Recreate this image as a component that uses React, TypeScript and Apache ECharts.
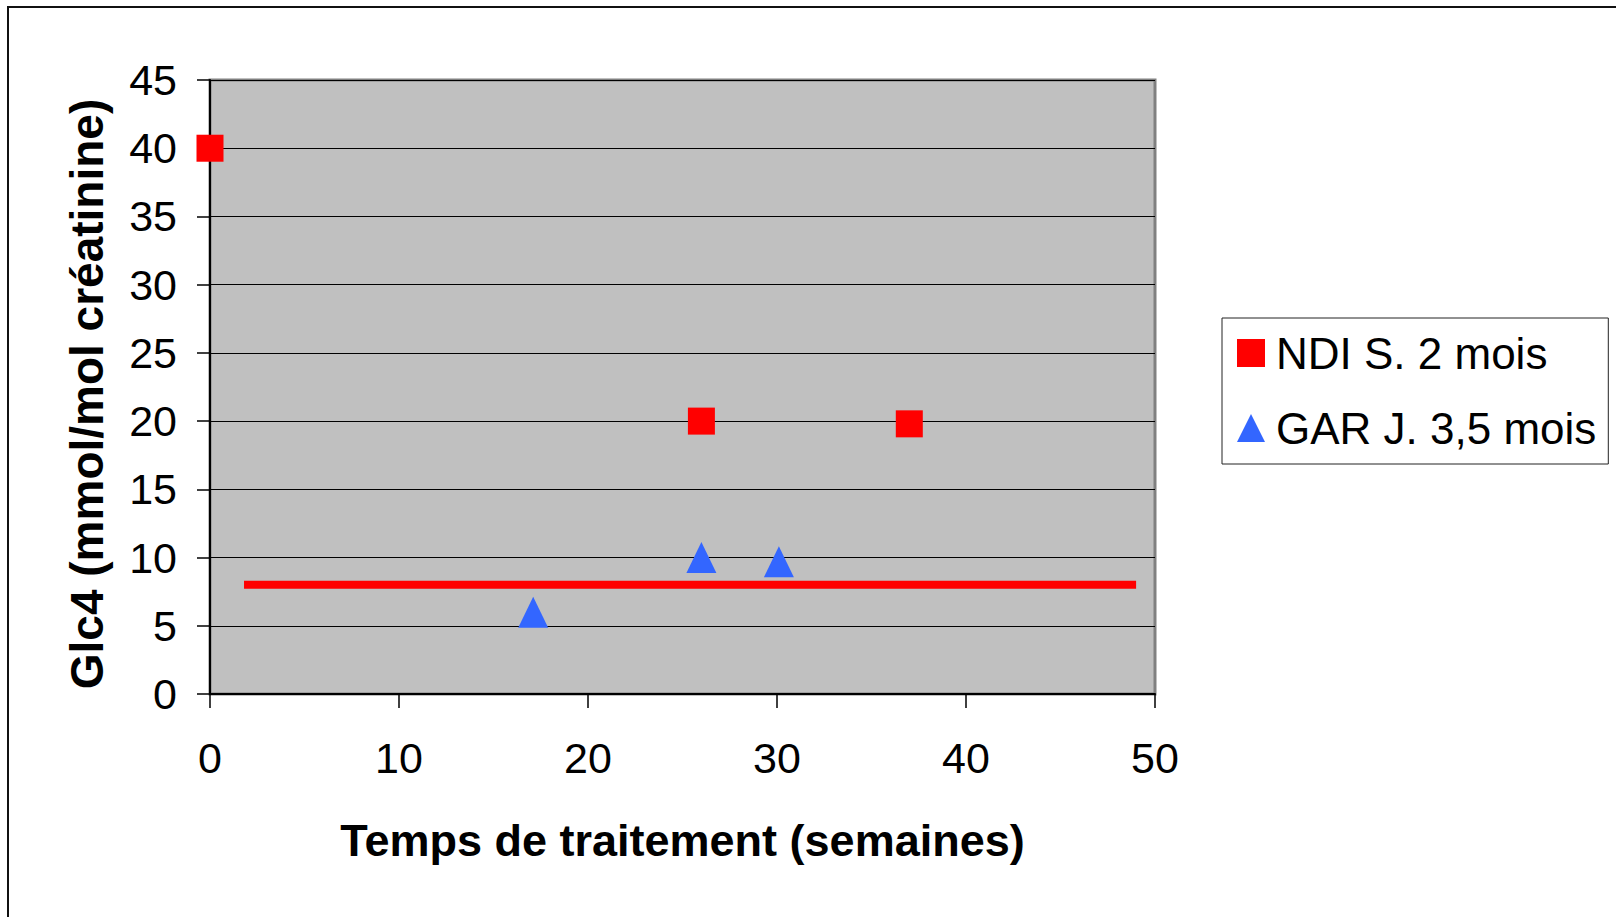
import React, { useEffect, useRef } from "react";
import * as echarts from "echarts";

const ndiName = "NDI S. 2 mois";
const garName = "GAR J. 3,5 mois";
const ndiData: [number, number][] = [
  [0, 40],
  [26, 20],
  [37, 19.8],
];
const garData: [number, number][] = [
  [17.1, 6],
  [26, 10],
  [30.1, 9.7],
];
const refLine: [number, number][] = [
  [1.8, 8],
  [49, 8],
];
const xTitle = "Temps de traitement (semaines)";
const yTitle = "Glc4 (mmol/mol créatinine)";

const FONT = "'Liberation Sans', Arial, sans-serif";

export default function App() {
  const ref = useRef<HTMLDivElement>(null);
  useEffect(() => {
    document.body.style.margin = "0";
    const chart = echarts.init(ref.current!, undefined, { renderer: "svg" });
    chart.setOption({
      animation: false,
      backgroundColor: "#fff",
      textStyle: { fontFamily: FONT },
      graphic: [
        {
          type: "rect",
          shape: { x: 8, y: 7, width: 1700, height: 1000 },
          style: { fill: "none", stroke: "#111", lineWidth: 2 },
          z: 100,
        },
      ],
      grid: {
        left: 210,
        top: 80,
        right: 461,
        bottom: 223,
        show: true,
        backgroundColor: "#c0c0c0",
        borderColor: "#808080",
        borderWidth: 3,
      },
      legend: {
        orient: "vertical",
        left: 1222,
        top: 318,
        padding: [13, 12, 14, 15],
        itemGap: 31,
        itemWidth: 28,
        itemHeight: 28,
        backgroundColor: "#fff",
        borderColor: "#222",
        borderWidth: 1,
        data: [ndiName, garName],
        textStyle: {
          fontFamily: FONT,
          fontSize: 44,
          lineHeight: 44,
          color: "#000",
          padding: [0, 0, 0, 6],
        },
      },
      xAxis: {
        type: "value",
        min: 0,
        max: 50,
        interval: 10,
        name: xTitle,
        nameLocation: "middle",
        nameGap: 124,
        nameTextStyle: {
          fontFamily: FONT,
          fontSize: 45,
          fontWeight: "bold",
          color: "#000",
        },
        axisLine: { show: true, lineStyle: { color: "#000", width: 2 } },
        axisTick: {
          show: true,
          inside: false,
          length: 14,
          lineStyle: { color: "#000", width: 1.5 },
        },
        axisLabel: {
          fontFamily: FONT,
          fontSize: 43,
          color: "#000",
          margin: 42,
        },
        splitLine: { show: false },
      },
      yAxis: {
        type: "value",
        min: 0,
        max: 45,
        interval: 5,
        name: yTitle,
        nameLocation: "middle",
        nameGap: 100,
        nameTextStyle: {
          fontFamily: FONT,
          fontSize: 46,
          fontWeight: "bold",
          color: "#000",
          padding: [0, 14, 0, 0],
        },
        axisLine: { show: true, lineStyle: { color: "#000", width: 2 } },
        axisTick: {
          show: true,
          inside: false,
          length: 13,
          lineStyle: { color: "#000", width: 1.5 },
        },
        axisLabel: {
          fontFamily: FONT,
          fontSize: 43,
          color: "#000",
          margin: 33,
        },
        splitLine: { show: true, lineStyle: { color: "#000", width: 1.2 } },
      },
      series: [
        {
          name: "Référence",
          type: "line",
          data: refLine,
          symbol: "none",
          clip: false,
          lineStyle: { color: "#ff0000", width: 8, cap: "butt" },
          z: 2,
        },
        {
          name: ndiName,
          type: "scatter",
          data: ndiData,
          symbol: "rect",
          symbolSize: 27,
          clip: false,
          itemStyle: { color: "#ff0000", opacity: 1 },
          z: 3,
        },
        {
          name: garName,
          type: "scatter",
          data: garData,
          symbol: "triangle",
          symbolSize: [30, 31],
          clip: false,
          itemStyle: { color: "#3366ff", opacity: 1 },
          z: 3,
        },
      ],
    });
    return () => chart.dispose();
  }, []);
  return <div ref={ref} style={{ width: 1616, height: 917 }} />;
}
